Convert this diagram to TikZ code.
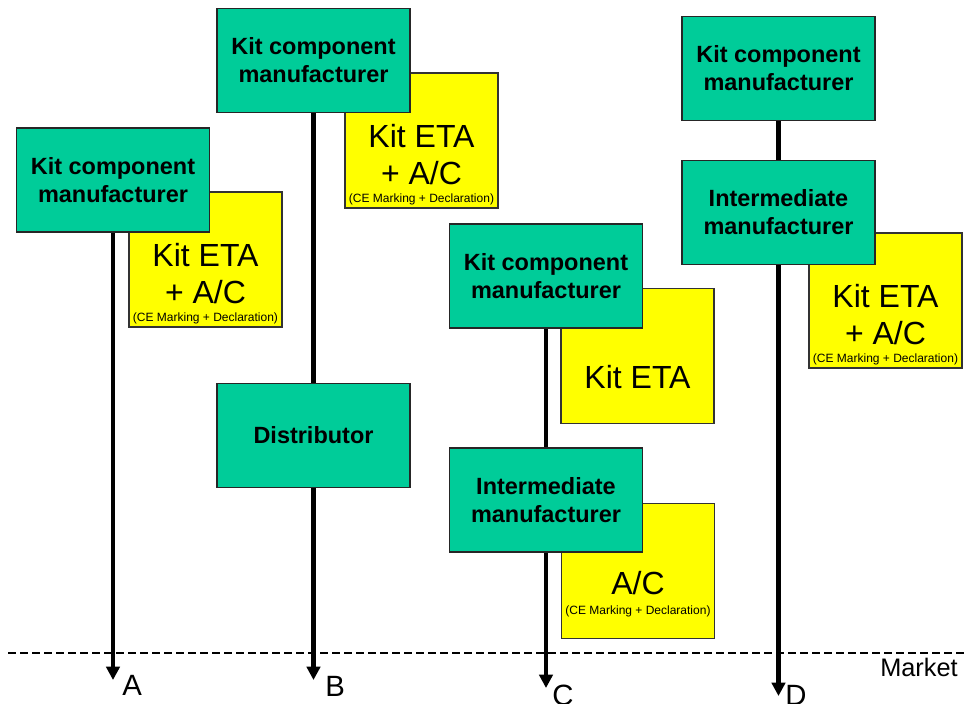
\documentclass[tikz,border=0pt]{standalone}
\usepackage{fontspec}
\setmainfont{Liberation Sans}
\usetikzlibrary{arrows.meta}
\definecolor{grn}{HTML}{00CC99}
\definecolor{yel}{HTML}{FFFF00}
\begin{document}
\begin{tikzpicture}[x=0.75pt,y=-0.75pt,
 gbox/.style={draw=black!85, line width=0.9pt, fill=grn, minimum width=144.75pt, minimum height=78pt, inner sep=0pt, align=center, font=\fontsize{17.6}{21}\selectfont\bfseries},
 ybox/.style={draw=black!80, line width=0.8pt, fill=yel, minimum width=114.75pt, minimum height=101.25pt, inner sep=0pt},
 bigtxt/.style={font=\fontsize{24}{28}\selectfont, anchor=base, inner sep=0pt},
 smalltxt/.style={font=\fontsize{9}{11}\selectfont, anchor=base, inner sep=0pt},
 flow/.style={line width=3.6pt, -{Triangle[length=10pt,width=10pt]}},
 link/.style={line width=3.6pt},
 lbl/.style={font=\fontsize{22}{26}\selectfont, anchor=base west, inner sep=0pt},
 marketline/.style={line width=1.2pt, dash pattern=on 6pt off 3pt}]
\useasboundingbox (0,0) rectangle (965,704);

% market line
\coordinate (mL) at (8,653);
\coordinate (mR) at (965,653);
\draw[marketline] (mL) -- (mR);
\node[lbl, font=\fontsize{19}{23}\selectfont] (market) at (880,676) {Market};

% yellow boxes
\node[ybox] (yA) at (205.5,259.5) {};
\node[ybox] (yB) at (421.5,140.5) {};
\node[ybox] (yC1) at (637.5,356) {};
\node[ybox] (yC2) at (638,571) {};
\node[ybox] (yD) at (885.5,300.5) {};

\node[bigtxt] (yA1) at (205.5,266) {Kit ETA};
\node[bigtxt] (yA2) at (205.5,303) {+ A/C};
\node[smalltxt] (yA3) at (205.5,321) {(CE Marking + Declaration)};

\node[bigtxt] (yB1) at (421.5,147) {Kit ETA};
\node[bigtxt] (yB2) at (421.5,184) {+ A/C};
\node[smalltxt] (yB3) at (421.5,202) {(CE Marking + Declaration)};

\node[bigtxt] (yC1t) at (637.5,388) {Kit ETA};

\node[bigtxt] (yC2a) at (638,594) {A/C};
\node[smalltxt] (yC2b) at (638,614) {(CE Marking + Declaration)};

\node[bigtxt] (yD1) at (885.5,307) {Kit ETA};
\node[bigtxt] (yD2) at (885.5,344) {+ A/C};
\node[smalltxt] (yD3) at (885.5,362) {(CE Marking + Declaration)};

% green boxes
\node[gbox] (gA1) at (113,180) {Kit component\\manufacturer};
\node[gbox] (gB1) at (313.5,60.5) {Kit component\\manufacturer};
\node[gbox] (gB2) at (313.5,435.5) {Distributor};
\node[gbox] (gC1) at (546,276) {Kit component\\manufacturer};
\node[gbox] (gC2) at (546,500) {Intermediate\\manufacturer};
\node[gbox] (gD1) at (778.5,68.5) {Kit component\\manufacturer};
\node[gbox] (gD2) at (778.5,212.5) {Intermediate\\manufacturer};

% arrow ends
\coordinate (eA) at (113,680);
\coordinate (eB) at (313.5,680);
\coordinate (eC) at (546,688);
\coordinate (eD) at (778.5,696);

% connectors
\draw[flow] (gA1.south) -- (eA);
\draw[link] (gB1.south) -- (gB2.north);
\draw[flow] (gB2.south) -- (eB);
\draw[link] (gC1.south) -- (gC2.north);
\draw[flow] (gC2.south) -- (eC);
\draw[link] (gD1.south) -- (gD2.north);
\draw[flow] (gD2.south) -- (eD);

% labels
\node[lbl] (lA) at (122,695) {A};
\node[lbl] (lB) at (325,696) {B};
\node[lbl] (lC) at (552,705) {C};
\node[lbl] (lD) at (785,705) {D};
\end{tikzpicture}
\end{document}
